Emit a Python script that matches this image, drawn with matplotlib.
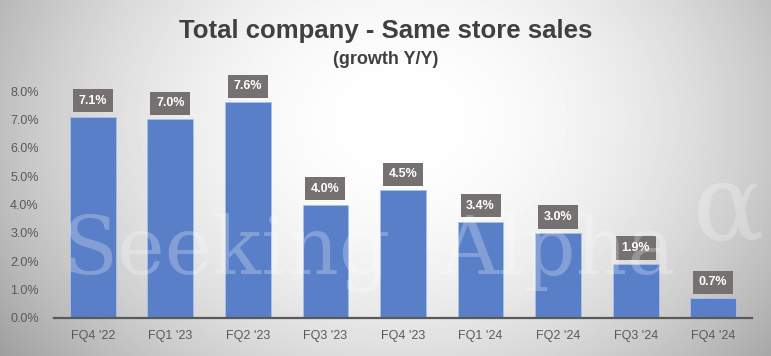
import matplotlib.pyplot as plt
import numpy as np

quarters = ["FQ4 '22", "FQ1 '23", "FQ2 '23", "FQ3 '23", "FQ4 '23",
            "FQ1 '24", "FQ2 '24", "FQ3 '24", "FQ4 '24"]
growth = [7.1, 7.0, 7.6, 4.0, 4.5, 3.4, 3.0, 1.9, 0.7]
yticks = [0, 1, 2, 3, 4, 5, 6, 7, 8]

plt.rcParams['font.family'] = ['Liberation Sans', 'DejaVu Sans']

fig = plt.figure(figsize=(7.71, 3.56), dpi=100)

# radial grey background
bg = fig.add_axes([0, 0, 1, 1], zorder=-10)
yy, xx = np.mgrid[0:356, 0:771]
r = ((xx - 400) / 520.0) ** 2 + ((yy - 120) / 420.0) ** 2
shade = np.clip(1.0 - 0.42 * r, 0, 1)
bg.imshow(shade, cmap='gray', vmin=0, vmax=1, aspect='auto')
bg.axis('off')

ax = fig.add_axes([54 / 771, 38 / 356, 698 / 771, 227 / 356])
ax.set_facecolor('none')
x = np.arange(len(quarters))
ax.bar(x, growth, width=0.59, color='#5A7FC9', edgecolor='#a9c0e8', linewidth=0.6, zorder=2)

for xi, v in zip(x, growth):
    ax.annotate(f'{v:.1f}%', (xi, v), xytext=(0, 11.5), textcoords='offset points',
                ha='center', va='center', color='white', fontsize=9, fontweight='bold',
                bbox=dict(boxstyle='square,pad=0.45', fc='#767171', ec='none'), zorder=4)

ax.set_xlim(-0.5, len(quarters) - 0.5)
ax.set_ylim(0, 8)
ax.set_yticks(yticks)
ax.set_yticklabels([f'{t:.1f}%' for t in yticks])
ax.set_xticks(x)
ax.set_xticklabels(quarters)
ax.tick_params(length=0, colors='#595959', labelsize=9)
ax.tick_params(axis='y', pad=11)
ax.tick_params(axis='x', pad=9)
for s in ['top', 'right', 'left']:
    ax.spines[s].set_visible(False)
ax.spines['bottom'].set_color('#595959')
ax.spines['bottom'].set_linewidth(1.6)
ax.spines['bottom'].set_zorder(3)

# watermark
wm = dict(family='DejaVu Serif', color='white', alpha=0.25, ha='left', va='baseline', zorder=5)
fig.text(62 / 771, 1 - 274 / 356, 'Seeking', fontsize=58, **wm)
fig.text(440 / 771, 1 - 274 / 356, 'Alpha', fontsize=58, **wm)
fig.text(693 / 771, 1 - 240 / 356, 'α', fontsize=76, **wm)

fig.text(0.5, 1 - 31 / 356, 'Total company - Same store sales', ha='center', va='center',
         fontsize=18.5, fontweight='bold', color='#404040')
fig.text(0.5, 1 - 60 / 356, '(growth Y/Y)', ha='center', va='center',
         fontsize=13, fontweight='bold', color='#404040')

fig.savefig('out.png', dpi=100)
